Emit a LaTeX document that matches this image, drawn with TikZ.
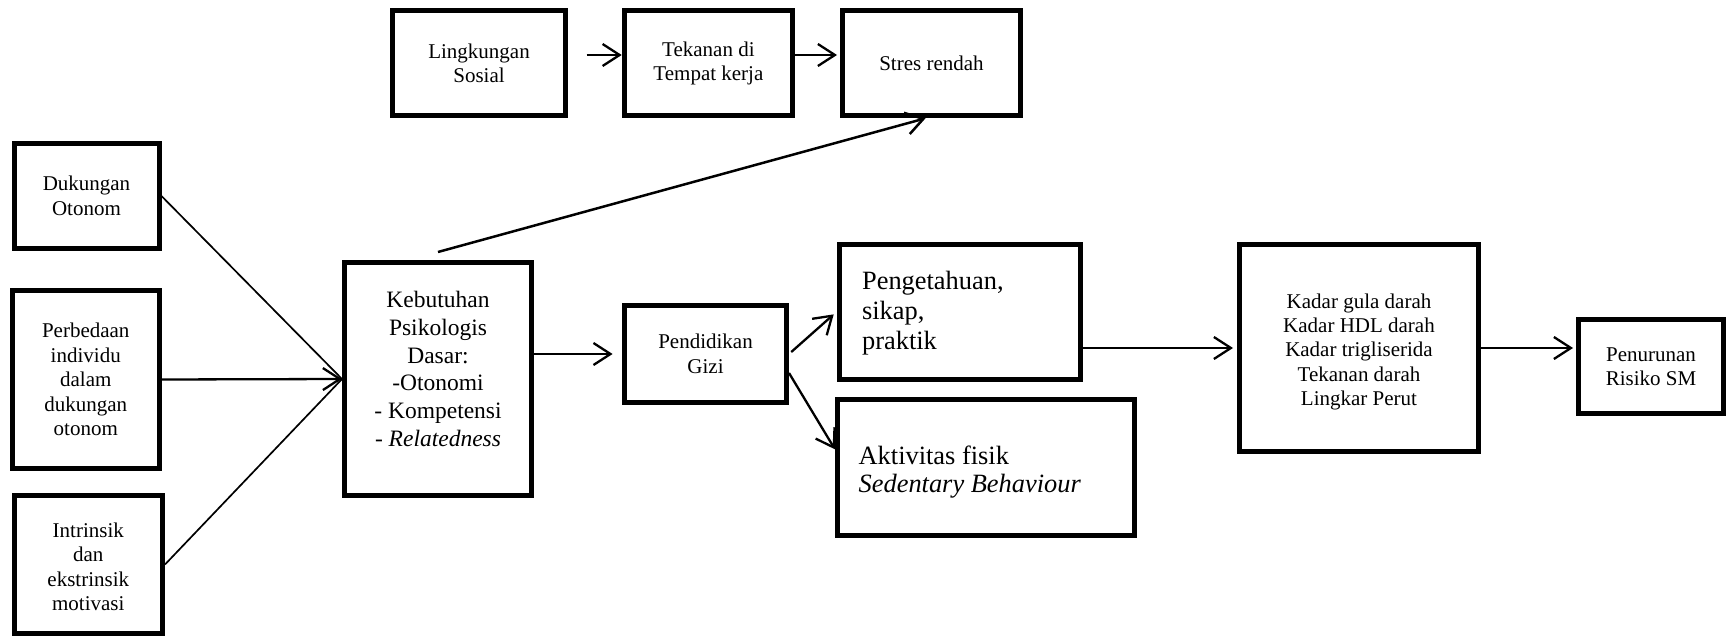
\documentclass[tikz,border=0pt]{standalone}
\usepackage{fontspec}
\setmainfont{Liberation Serif}
\usetikzlibrary{arrows.meta,calc}

\begin{document}
\begin{tikzpicture}[x=0.5pt,y=-0.5pt,
  box/.style={draw, line width=2.5pt, inner sep=0pt, align=center},
  small/.style={font=\fontsize{10.5pt}{12.2pt}\selectfont},
  mid/.style={font=\fontsize{11.75pt}{13.85pt}\selectfont},
  big/.style={font=\fontsize{13.2pt}{14pt}\selectfont},
  txt/.style={inner sep=0pt},
  arr/.style={line width=1.15pt, -{Straight Barb[length=8.5pt,width=11pt]}},
  link/.style={line width=0.85pt}]
\useasboundingbox (0,0) rectangle (1733,636);

% top row
\node[box,small,minimum width=86.5pt,minimum height=52.5pt] (ling) at (479,63.3) {Lingkungan\\Sosial};
\node[box,small,minimum width=84.2pt,minimum height=52.5pt] (tek) at (708.4,63.3) {Tekanan di\\Tempat kerja};
\node[box,small,minimum width=89pt,minimum height=52.5pt] (stres) at (931.5,63.3) {Stres rendah};

% left column
\node[box,small,minimum width=72.5pt,minimum height=52.5pt] (duk) at (86.5,196) {Dukungan\\Otonom};
\node[box,small,minimum width=73.25pt,minimum height=89pt] (perb) at (85.75,379.5) {Perbedaan\\individu\\dalam\\dukungan\\otonom};
\node[box,minimum width=74.2pt,minimum height=69pt] (intr) at (88.3,564.5) {};
\node[txt,small,align=center] (intrtxt) at ([yshift=-1.2pt]intr.center) {Intrinsik\\dan\\ekstrinsik\\motivasi};

% basic psychological needs
\node[box,minimum width=93.5pt,minimum height=116.5pt] (keb) at (438,379) {};
\node[txt,mid,align=center] (kebtxt) at ([yshift=5pt]keb.center)
  {Kebutuhan\\Psikologis\\Dasar:\\-Otonomi\\- Kompetensi\\- \textit{Relatedness}};

% education and outcomes
\node[box,small,minimum width=81pt,minimum height=48.5pt] (pend) at (705.5,354) {Pendidikan\\Gizi};
\node[box,minimum width=120.8pt,minimum height=67.5pt] (peng) at (960,311.7) {};
\node[txt,font=\fontsize{13.2pt}{15pt}\selectfont,align=left,anchor=west] (pengtxt) at ([xshift=12.5pt,yshift=-0.5pt]peng.west) {Pengetahuan,\\sikap,\\praktik};
\node[box,minimum width=148.35pt,minimum height=68.2pt] (akt) at (985.8,467.3) {};
\node[txt,big,align=left,anchor=west] (akttxt) at ([xshift=11.65pt,yshift=-2.4pt]akt.west) {Aktivitas fisik\\\textit{Sedentary Behaviour}};
\node[box,minimum width=119.5pt,minimum height=103.5pt] (kadar) at (1359,348) {};
\node[txt,small,align=center] (kadartxt) at ([yshift=-1.9pt]kadar.center)
  {Kadar gula darah\\Kadar HDL darah\\Kadar trigliserida\\Tekanan darah\\Lingkar Perut};
\node[box,small,minimum width=72.5pt,minimum height=47pt] (pen) at (1651,366.5) {Penurunan\\Risiko SM};

% connectors
\draw[arr, shorten <=9.3pt] ([yshift=4.15pt]ling.east) -- ([yshift=4.15pt]tek.west);
\draw[arr, shorten >=1.5pt] ([yshift=4.15pt]tek.east) -- ([yshift=4.15pt]stres.west);
\draw[arr, line width=1.25pt] ([yshift=4pt]keb.north) -- ([xshift=-3pt]stres.south);
\draw[link] (duk.east) -- (keb.west);
\draw[link] (intr.east) -- (keb.west);
\draw[arr] (perb.east) -- (keb.west);
\draw[arr, shorten >=4.7pt] (keb.east |- pend.west) -- (pend.west);
\draw[arr, shorten <=1.5pt, shorten >=2pt] (pend.east) -- (peng.west);
\draw[arr] ([yshift=-9.5pt]pend.east) -- ([yshift=9pt]akt.west);
\draw[arr, shorten >=2pt] (peng.east |- kadar.west) -- (kadar.west);
\draw[arr, shorten >=1.5pt] (kadar.east) -- (pen.west |- kadar.east);
\end{tikzpicture}
\end{document}
